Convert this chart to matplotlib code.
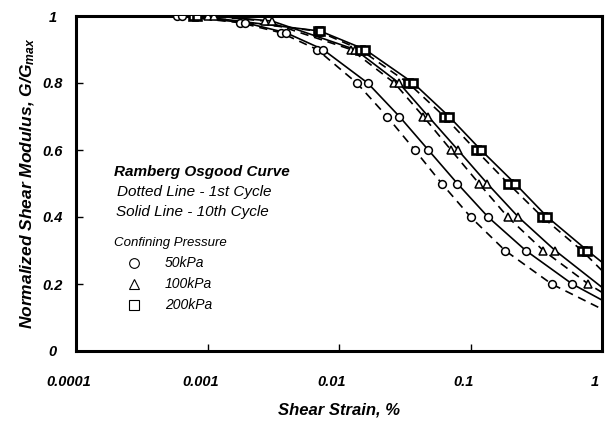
import matplotlib
matplotlib.use("Agg")
import matplotlib.pyplot as plt
import matplotlib.transforms as mtransforms

plt.rcParams['font.family'] = ['Liberation Sans', 'DejaVu Sans']
plt.rcParams['mathtext.fontset'] = 'custom'
plt.rcParams['mathtext.it'] = 'Liberation Sans:italic:bold'
plt.rcParams['mathtext.rm'] = 'Liberation Sans:bold'

# G/Gmax levels at which the test points were picked, and the strain (%) per cycle
levels_50_1st = [1.0, 0.98, 0.95, 0.9, 0.8, 0.7, 0.6, 0.5, 0.4, 0.3, 0.2]
strain_50_1st = [0.00059, 0.00177, 0.00362, 0.00681, 0.01365, 0.0232, 0.0377, 0.0604, 0.1002, 0.183, 0.414]
levels_50_10th = [1.0, 0.98, 0.95, 0.9, 0.8, 0.7, 0.6, 0.5, 0.4, 0.3, 0.2]
strain_50_10th = [0.00064, 0.00193, 0.00395, 0.00755, 0.01652, 0.0288, 0.0478, 0.0794, 0.136, 0.263, 0.594]

levels_100_1st = [1.0, 0.985, 0.9, 0.8, 0.7, 0.6, 0.5, 0.4, 0.3, 0.2]
strain_100_1st = [0.00101, 0.00274, 0.01233, 0.0264, 0.0438, 0.0711, 0.116, 0.192, 0.358, 0.787]
levels_100_10th = [1.0, 0.985, 0.9, 0.8, 0.7, 0.6, 0.5, 0.4, 0.3]
strain_100_10th = [0.00112, 0.00309, 0.01324, 0.0286, 0.0478, 0.0803, 0.134, 0.231, 0.44]

levels_200_1st = [1.0, 0.955, 0.9, 0.8, 0.7, 0.6, 0.5, 0.4, 0.3]
strain_200_1st = [0.000776, 0.0069, 0.01445, 0.0336, 0.0632, 0.1096, 0.1936, 0.352, 0.702]
levels_200_10th = [1.0, 0.955, 0.9, 0.8, 0.7, 0.6, 0.5, 0.4, 0.3]
strain_200_10th = [0.000832, 0.0072, 0.01578, 0.0367, 0.0687, 0.120, 0.218, 0.384, 0.773]

# Fitted curve values at the two ends of the strain axis
curve_start_strain = 0.0001
curve_end_strain = 1.0
end_50_1st, end_50_10th = 0.125, 0.152
end_100_1st, end_100_10th = 0.175, 0.19
end_200_1st, end_200_10th = 0.24, 0.265

x_ticks = [0.0001, 0.001, 0.01, 0.1, 1]
x_tick_labels = ['0.0001', '0.001', '0.01', '0.1', '1']
y_ticks = [0, 0.2, 0.4, 0.6, 0.8, 1]
y_tick_labels = ['0', '0.2', '0.4', '0.6', '0.8', '1']

fig = plt.figure(figsize=(6.14, 4.24), dpi=100)
ax = fig.add_axes([76 / 614, 1 - 351 / 424, 526 / 614, 335 / 424])

dashed = (0, (5, 3.5))
series = [
    (strain_50_1st, levels_50_1st, end_50_1st, 'o', dashed),
    (strain_50_10th, levels_50_10th, end_50_10th, 'o', '-'),
    (strain_100_1st, levels_100_1st, end_100_1st, '^', dashed),
    (strain_100_10th, levels_100_10th, end_100_10th, '^', '-'),
    (strain_200_1st, levels_200_1st, end_200_1st, 's', dashed),
    (strain_200_10th, levels_200_10th, end_200_10th, 's', '-'),
]

for xs, ys, yend, mk, ls in series:
    cx = [curve_start_strain] + list(xs) + [curve_end_strain]
    cy = [1.0] + list(ys) + [yend]
    ax.plot(cx, cy, color='black', lw=1.2, ls=ls, zorder=2)
    ms = {'o': 5.6, '^': 6.2, 's': 5.8}[mk]
    ax.plot(xs, ys, ls='none', marker=mk, ms=ms, mfc='white', mec='black',
            mew=1.9 if mk == 's' else 1.1, zorder=3)

ax.set_xscale('log')
ax.set_xlim(0.0001, 1)
ax.set_ylim(0, 1)
ax.set_xticks(x_ticks)
ax.set_xticklabels(x_tick_labels)
ax.set_yticks(y_ticks)
ax.set_yticklabels(y_tick_labels)
ax.minorticks_off()

for s in ax.spines.values():
    s.set_linewidth(2.2)
    s.set_color('black')

ax.tick_params(axis='x', direction='in', length=5, width=1, pad=17)
ax.tick_params(axis='y', direction='in', length=5, width=1, pad=17)
shift_left = mtransforms.ScaledTranslation(-7 / 100, 0, fig.dpi_scale_trans)
for lab in ax.get_xticklabels():
    lab.set_fontsize(10.5); lab.set_fontweight('bold'); lab.set_fontstyle('italic')
    lab.set_transform(lab.get_transform() + shift_left)
for lab in ax.get_yticklabels():
    lab.set_fontsize(10.5); lab.set_fontweight('bold'); lab.set_fontstyle('italic')
    lab.set_horizontalalignment('center')

ax.set_xlabel('Shear Strain, %', fontsize=12, fontweight='bold', fontstyle='italic', labelpad=10)
ax.set_ylabel(r'Normalized Shear Modulus, G/G$_{max}$', fontsize=12.5,
              fontweight='bold', fontstyle='italic', labelpad=4)


def fx(px):
    return (px - 76) / 526


def fy(py):
    return (351 - py) / 335


ax.text(fx(114), fy(172), 'Ramberg Osgood Curve', transform=ax.transAxes, fontsize=11,
        fontweight='bold', fontstyle='italic', va='center', ha='left')
ax.text(fx(117), fy(192), 'Dotted Line - 1st Cycle', transform=ax.transAxes, fontsize=11,
        fontstyle='italic', va='center', ha='left')
ax.text(fx(116), fy(212), 'Solid Line - 10th Cycle', transform=ax.transAxes, fontsize=11,
        fontstyle='italic', va='center', ha='left')
ax.text(fx(114), fy(243), 'Confining Pressure', transform=ax.transAxes, fontsize=9.5,
        fontstyle='italic', va='center', ha='left')

legend_items = [('o', '50kPa', 263), ('^', '100kPa', 284), ('s', '200kPa', 305)]
for mk, label, py in legend_items:
    ax.plot([fx(134)], [fy(py)], transform=ax.transAxes, marker=mk, ms=7, mfc='white',
            mec='black', mew=0.8, ls='none', clip_on=False)
    ax.text(fx(165), fy(py), label, transform=ax.transAxes, fontsize=10,
            fontstyle='italic', va='center', ha='left')

fig.savefig('out.png', dpi=100)
